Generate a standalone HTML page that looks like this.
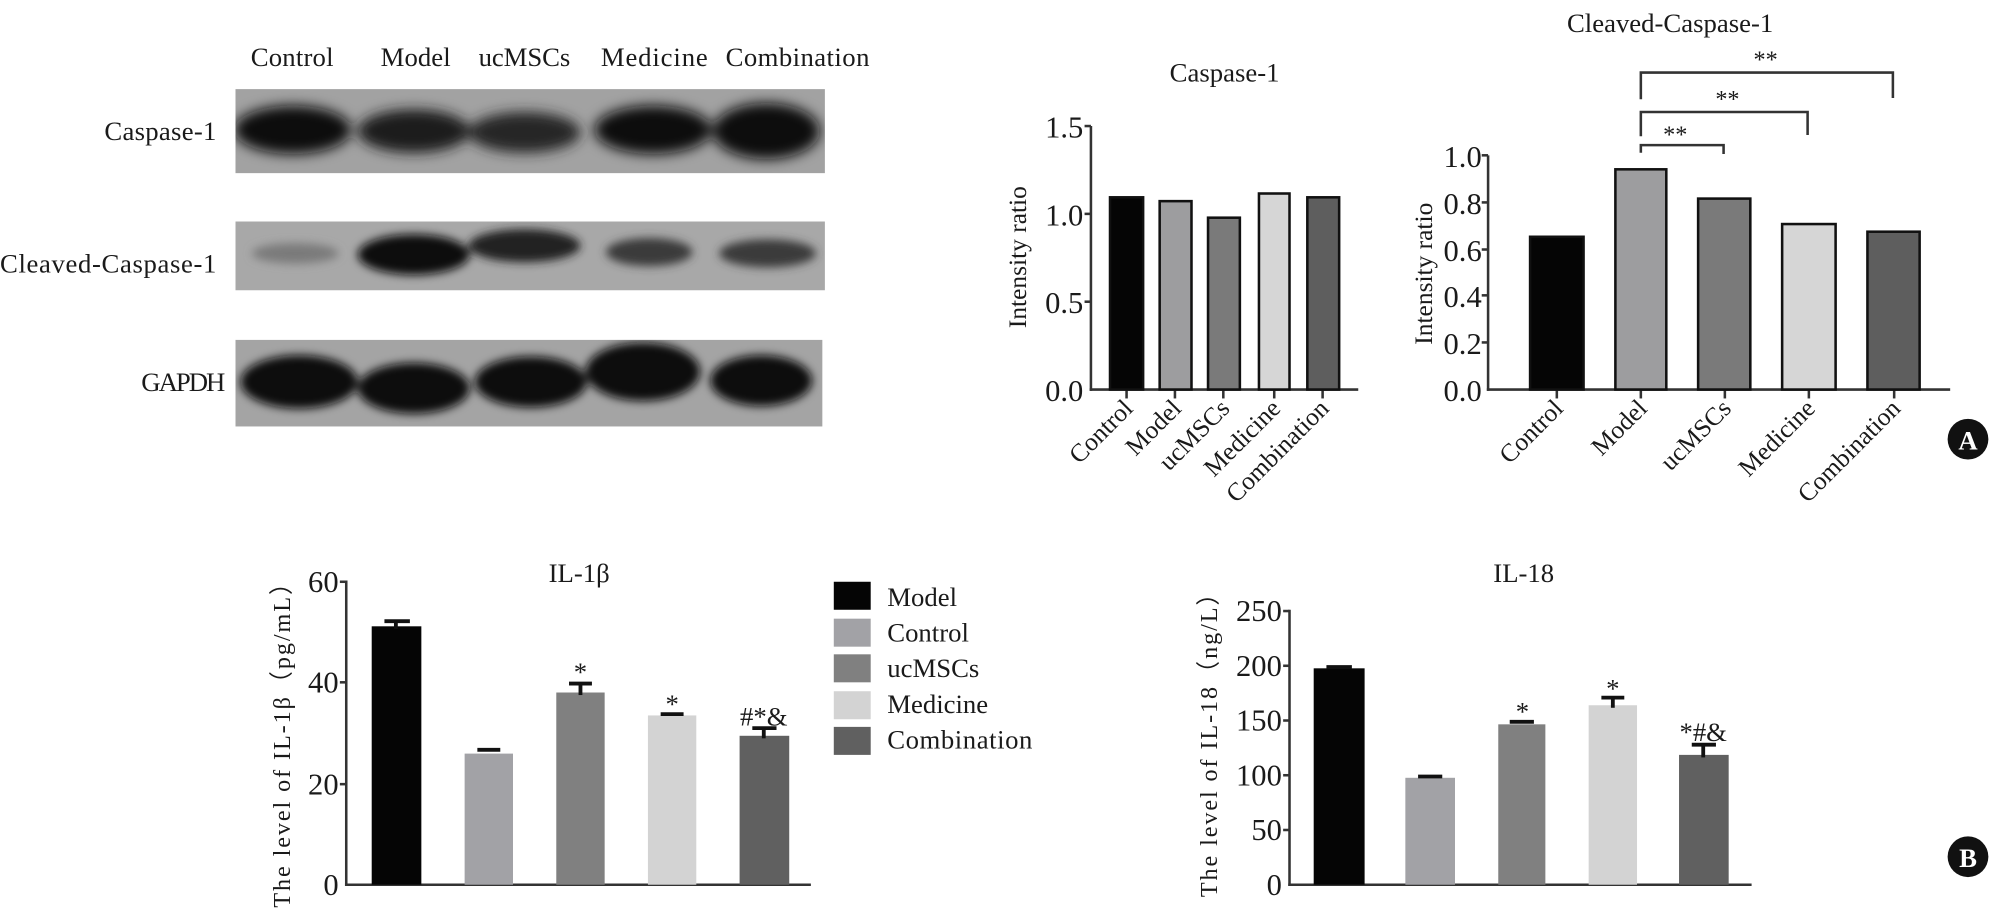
<!DOCTYPE html>
<html><head><meta charset="utf-8"><style>
html,body{margin:0;padding:0;background:#fff}
svg{display:block}
text{font-family:"Liberation Serif",serif;fill:#1a1a1a}
</style></head><body>
<svg width="1996" height="913" viewBox="0 0 1568 717.2" xmlns="http://www.w3.org/2000/svg">
<defs>
<filter id="b" x="-30%" y="-50%" width="160%" height="200%"><feGaussianBlur stdDeviation="5"/></filter>
<filter id="b2" x="-30%" y="-50%" width="160%" height="200%"><feGaussianBlur stdDeviation="3.5"/></filter>
<clipPath id="c1"><rect x="185" y="70" width="463" height="66"/></clipPath>
<clipPath id="c2"><rect x="185" y="174" width="463" height="54"/></clipPath>
<clipPath id="c3"><rect x="185" y="267" width="461" height="68"/></clipPath>
</defs>
<rect width="1568" height="717.2" fill="#fff"/>
<g font-size="21">
<text x="197" y="52" textLength="65">Control</text>
<text x="299" y="52" textLength="55">Model</text>
<text x="376" y="52" textLength="72">ucMSCs</text>
<text x="472" y="52" textLength="84">Medicine</text>
<text x="570" y="52" textLength="113">Combination</text>
<text x="170" y="110" text-anchor="end" textLength="88">Caspase-1</text>
<text x="170" y="214" text-anchor="end" textLength="170">Cleaved-Caspase-1</text>
<text x="177" y="307" text-anchor="end" textLength="66">GAPDH</text>
</g>
<rect x="185" y="70" width="463" height="66" fill="#a2a2a2"/>
<g clip-path="url(#c1)"><g filter="url(#b)" fill="#111">
<ellipse cx="230" cy="102" rx="46" ry="19"/>
<ellipse cx="325" cy="103" rx="44" ry="17" fill="#1e1e1e"/>
<ellipse cx="412" cy="104" rx="44" ry="16" fill="#262626"/>
<ellipse cx="513" cy="102" rx="46" ry="19"/>
<ellipse cx="602" cy="103" rx="42" ry="22"/>
</g></g>
<rect x="185" y="174" width="463" height="54" fill="#a8a8a8"/>
<g clip-path="url(#c2)"><g filter="url(#b2)">
<ellipse cx="232" cy="199" rx="34" ry="8" fill="#7a7a7a"/>
<ellipse cx="325" cy="200" rx="44" ry="16" fill="#111"/>
<ellipse cx="412" cy="193" rx="44" ry="13" fill="#222"/>
<ellipse cx="510" cy="198" rx="34" ry="11" fill="#3a3a3a"/>
<ellipse cx="603" cy="199" rx="38" ry="11" fill="#3a3a3a"/>
</g></g>
<rect x="185" y="267" width="461" height="68" fill="#a4a4a4"/>
<g clip-path="url(#c3)"><g filter="url(#b2)" fill="#0a0a0a">
<ellipse cx="235" cy="300" rx="46" ry="21"/>
<ellipse cx="325" cy="305" rx="44" ry="20"/>
<ellipse cx="417" cy="300" rx="44" ry="20"/>
<ellipse cx="505" cy="292" rx="45" ry="23"/>
<ellipse cx="598" cy="299" rx="40" ry="20"/>
</g></g>

<text x="962" y="64" font-size="21" text-anchor="middle">Caspase-1</text>
<g stroke="#333" stroke-width="2" fill="none">
<line x1="857" y1="99" x2="857" y2="307"/>
<line x1="856" y1="306" x2="1067" y2="306"/>
<line x1="852" y1="99" x2="857" y2="99"/><line x1="852" y1="168" x2="857" y2="168"/><line x1="852" y1="237" x2="857" y2="237"/>
<line x1="885" y1="306" x2="885" y2="313"/><line x1="923" y1="306" x2="923" y2="313"/><line x1="961" y1="306" x2="961" y2="313"/><line x1="1001" y1="306" x2="1001" y2="313"/><line x1="1039" y1="306" x2="1039" y2="313"/>
</g>
<g stroke="#111" stroke-width="2">
<rect x="872" y="155" width="26" height="151" fill="#050505"/>
<rect x="911" y="158" width="25" height="148" fill="#9d9d9f"/>
<rect x="949" y="171" width="25" height="135" fill="#7a7a7a"/>
<rect x="989" y="152" width="24" height="154" fill="#d6d6d6"/>
<rect x="1027" y="155" width="25" height="151" fill="#5e5e5e"/>
</g>
<g font-size="24" text-anchor="end">
<text x="851" y="108">1.5</text><text x="851" y="177">1.0</text><text x="851" y="246">0.5</text><text x="851" y="315">0.0</text>
</g>
<text transform="translate(806,202) rotate(-90)" font-size="20" text-anchor="middle">Intensity ratio</text>
<g font-size="20" text-anchor="end">
<text transform="translate(891,322) rotate(-45)">Control</text>
<text transform="translate(929,322) rotate(-45)">Model</text>
<text transform="translate(967,322) rotate(-45)">ucMSCs</text>
<text transform="translate(1007,322) rotate(-45)">Medicine</text>
<text transform="translate(1045,322) rotate(-45)">Combination</text>
</g>

<text x="1312" y="25" font-size="21" text-anchor="middle">Cleaved-Caspase-1</text>
<g stroke="#333" stroke-width="2" fill="none">
<line x1="1169" y1="122" x2="1169" y2="307"/>
<line x1="1168" y1="306" x2="1532" y2="306"/>
<line x1="1164" y1="122" x2="1169" y2="122"/><line x1="1164" y1="159" x2="1169" y2="159"/><line x1="1164" y1="196" x2="1169" y2="196"/><line x1="1164" y1="232" x2="1169" y2="232"/><line x1="1164" y1="269" x2="1169" y2="269"/>
<line x1="1223" y1="306" x2="1223" y2="313"/><line x1="1289" y1="306" x2="1289" y2="313"/><line x1="1355" y1="306" x2="1355" y2="313"/><line x1="1421" y1="306" x2="1421" y2="313"/><line x1="1488" y1="306" x2="1488" y2="313"/>
<polyline points="1289,120 1289,114 1354,114 1354,121"/>
<polyline points="1289,107 1289,88 1420,88 1420,106"/>
<polyline points="1289,78 1289,57 1487,57 1487,77"/>
</g>
<g stroke="#111" stroke-width="2">
<rect x="1202" y="186" width="42" height="120" fill="#050505"/>
<rect x="1269" y="133" width="40" height="173" fill="#9d9d9f"/>
<rect x="1334" y="156" width="41" height="150" fill="#7a7a7a"/>
<rect x="1400" y="176" width="42" height="130" fill="#d6d6d6"/>
<rect x="1467" y="182" width="41" height="124" fill="#5e5e5e"/>
</g>
<g font-size="19" text-anchor="middle">
<text x="1316" y="112">**</text><text x="1357" y="84">**</text><text x="1387" y="53">**</text>
</g>
<g font-size="24" text-anchor="end">
<text x="1164" y="131">1.0</text><text x="1164" y="168">0.8</text><text x="1164" y="205">0.6</text><text x="1164" y="241">0.4</text><text x="1164" y="278">0.2</text><text x="1164" y="315">0.0</text>
</g>
<text transform="translate(1125,215) rotate(-90)" font-size="20" text-anchor="middle">Intensity ratio</text>
<g font-size="20" text-anchor="end">
<text transform="translate(1229,322) rotate(-45)">Control</text>
<text transform="translate(1295,322) rotate(-45)">Model</text>
<text transform="translate(1361,322) rotate(-45)">ucMSCs</text>
<text transform="translate(1427,322) rotate(-45)">Medicine</text>
<text transform="translate(1494,322) rotate(-45)">Combination</text>
</g>
<circle cx="1546" cy="345" r="16" fill="#111"/>
<text x="1546" y="353" font-family="Liberation Sans,sans-serif" font-size="21" text-anchor="middle" font-weight="bold" style="fill:#fff">A</text>

<text x="455" y="457" font-size="21" text-anchor="middle">IL-1β</text>
<g stroke="#333" stroke-width="2" fill="none">
<line x1="272" y1="456" x2="272" y2="696"/>
<line x1="271" y1="695" x2="637" y2="695"/>
<line x1="267" y1="457" x2="272" y2="457"/><line x1="267" y1="536" x2="272" y2="536"/><line x1="267" y1="616" x2="272" y2="616"/>
</g>
<g>
<rect x="292" y="492" width="39" height="203" fill="#050505"/>
<rect x="365" y="592" width="38" height="103" fill="#a2a2a6"/>
<rect x="437" y="544" width="38" height="151" fill="#808080"/>
<rect x="509" y="562" width="38" height="133" fill="#d3d3d3"/>
<rect x="581" y="578" width="39" height="117" fill="#606060"/>
</g>
<g stroke="#111" stroke-width="3">
<line x1="302" y1="488" x2="322" y2="488"/><line x1="311" y1="488" x2="311" y2="494"/>
<line x1="375" y1="589" x2="393" y2="589"/>
<line x1="447" y1="537" x2="465" y2="537"/><line x1="456" y1="537" x2="456" y2="546"/>
<line x1="519" y1="561" x2="537" y2="561"/>
<line x1="591" y1="572" x2="610" y2="572"/><line x1="600" y1="572" x2="600" y2="580"/>
</g>
<g font-size="21" text-anchor="middle">
<text x="456" y="535">*</text><text x="528" y="560">*</text><text x="600" y="570">#*&amp;</text>
</g>
<g font-size="24" text-anchor="end">
<text x="266" y="465">60</text><text x="266" y="544">40</text><text x="266" y="624">20</text><text x="266" y="703">0</text>
</g>
<text transform="translate(228,580) rotate(-90)" font-size="19" text-anchor="middle" letter-spacing="1.5">The level of IL-1β（pg/mL）</text>
<g>
<rect x="655" y="457" width="29" height="22" fill="#050505"/>
<rect x="655" y="486" width="29" height="22" fill="#a2a2a6"/>
<rect x="655" y="514" width="29" height="22" fill="#808080"/>
<rect x="655" y="543" width="29" height="22" fill="#d3d3d3"/>
<rect x="655" y="571" width="29" height="22" fill="#606060"/>
</g>
<g font-size="21">
<text x="697" y="476">Model</text><text x="697" y="504">Control</text><text x="697" y="532">ucMSCs</text><text x="697" y="560">Medicine</text><text x="697" y="588" textLength="114">Combination</text>
</g>

<text x="1197" y="457" font-size="21" text-anchor="middle">IL-18</text>
<g stroke="#333" stroke-width="2" fill="none">
<line x1="1013" y1="479" x2="1013" y2="696"/>
<line x1="1012" y1="695" x2="1376" y2="695"/>
<line x1="1008" y1="480" x2="1013" y2="480"/><line x1="1008" y1="523" x2="1013" y2="523"/><line x1="1008" y1="566" x2="1013" y2="566"/><line x1="1008" y1="609" x2="1013" y2="609"/><line x1="1008" y1="652" x2="1013" y2="652"/>
</g>
<g>
<rect x="1032" y="525" width="40" height="170" fill="#050505"/>
<rect x="1104" y="611" width="39" height="84" fill="#a2a2a6"/>
<rect x="1177" y="569" width="37" height="126" fill="#808080"/>
<rect x="1248" y="554" width="38" height="141" fill="#d3d3d3"/>
<rect x="1319" y="593" width="39" height="102" fill="#606060"/>
</g>
<g stroke="#111" stroke-width="3">
<line x1="1042" y1="524" x2="1062" y2="524"/>
<line x1="1114" y1="610" x2="1133" y2="610"/>
<line x1="1186" y1="567" x2="1205" y2="567"/>
<line x1="1258" y1="548" x2="1276" y2="548"/><line x1="1267" y1="548" x2="1267" y2="556"/>
<line x1="1329" y1="585" x2="1348" y2="585"/><line x1="1338" y1="585" x2="1338" y2="595"/>
</g>
<g font-size="21" text-anchor="middle">
<text x="1196" y="566">*</text><text x="1267" y="548">*</text><text x="1338" y="582">*#&amp;</text>
</g>
<g font-size="24" text-anchor="end">
<text x="1007" y="488">250</text><text x="1007" y="531">200</text><text x="1007" y="574">150</text><text x="1007" y="617">100</text><text x="1007" y="660">50</text><text x="1007" y="703">0</text>
</g>
<text transform="translate(956,580) rotate(-90)" font-size="19" text-anchor="middle" letter-spacing="1.5">The level of IL-18（ng/L）</text>
<circle cx="1546" cy="673" r="16" fill="#111"/>
<text x="1546" y="681" font-family="Liberation Sans,sans-serif" font-size="21" text-anchor="middle" font-weight="bold" style="fill:#fff">B</text>
</svg>
</body></html>
